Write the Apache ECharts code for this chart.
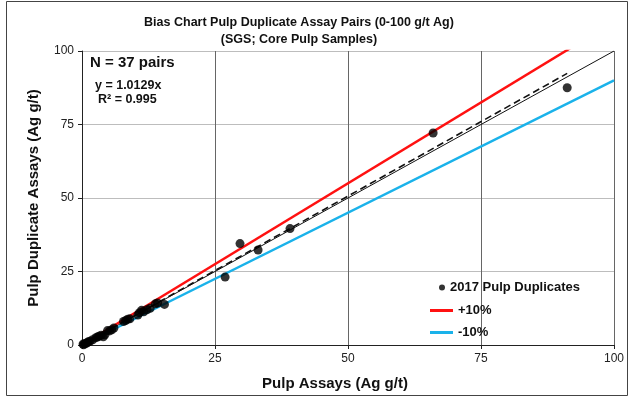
<!DOCTYPE html>
<html>
<head>
<meta charset="utf-8">
<script src="https://cdn.jsdelivr.net/npm/echarts@6/dist/echarts.min.js"></script>
<style>
html,body{margin:0;padding:0;background:#fff;}
#chart{width:629px;height:397px;}
</style>
</head>
<body>
<div id="chart"></div>
<script>
// ---- data ----
const pulpAssays = [0.2,0.3,0.5,0.8,1.0,1.2,1.5,2.0,2.6,2.9,3.2,3.6,4.0,4.3,4.8,5.2,5.6,6.0,7.8,8.2,8.6,9.0,10.5,10.8,11.2,11.6,12.2,12.8,13.8,14.2,15.5,26.9,29.7,33.1,39.1,66.0,91.2];
const pulpDuplicates = [0.3,0.1,0.4,0.6,0.8,1.1,1.3,1.8,2.5,2.7,3.0,3.3,2.8,3.5,4.9,4.8,5.2,5.8,8.0,8.3,8.8,8.9,10.2,11.0,11.8,11.3,12.0,12.5,14.0,14.3,13.8,23.1,34.5,32.3,39.6,72.1,87.5];
const trendSlope = 1.0129;
const plusSlope = 1.10;
const minusSlope = 0.90;
const axisTicks = [0,25,50,75,100];
const title1 = 'Bias Chart Pulp Duplicate Assay Pairs (0-100 g/t Ag)';
const title2 = '(SGS; Core Pulp Samples)';

const points = pulpAssays.map((x,i)=>[x,pulpDuplicates[i]]);
const xMax = Math.max(...pulpAssays);
const FONT = 'Liberation Sans, Arial, sans-serif';

const chart = echarts.init(document.getElementById('chart'));
chart.setOption({
  animation:false,
  backgroundColor:'#fff',
  textStyle:{fontFamily:FONT},
  title:{
    text:title1+'\n'+title2,
    left:294, top:9, textAlign:'center',
    textStyle:{fontFamily:FONT,fontSize:12.5,fontWeight:'bold',color:'#111',lineHeight:17}
  },
  grid:{left:82,right:15,top:51,bottom:52,containLabel:false,outerBoundsMode:'none'},
  xAxis:{
    type:'value',min:axisTicks[0],max:axisTicks[axisTicks.length-1],interval:25,
    name:'Pulp Assays (Ag g/t)',nameLocation:'middle',nameGap:31,
    nameTextStyle:{fontFamily:FONT,fontSize:15,fontWeight:'bold',color:'#111',padding:[0,26,0,0]},
    axisLine:{lineStyle:{color:'#222',width:1}},
    axisTick:{show:true,inside:false,length:4,lineStyle:{color:'#222'}},
    axisLabel:{fontFamily:FONT,fontSize:12,color:'#222',margin:8},
    splitLine:{show:true,lineStyle:{color:'#666',width:1}}
  },
  yAxis:{
    type:'value',min:axisTicks[0],max:axisTicks[axisTicks.length-1],interval:25,
    name:'Pulp Duplicate Assays (Ag g/t)',nameLocation:'middle',nameGap:41,
    nameTextStyle:{fontFamily:FONT,fontSize:15,fontWeight:'bold',color:'#111'},
    axisLine:{show:true,lineStyle:{color:'#222',width:1}},
    axisTick:{show:true,inside:false,length:4,lineStyle:{color:'#222'}},
    axisLabel:{fontFamily:FONT,fontSize:12,color:'#222',margin:8},
    splitLine:{show:true,lineStyle:{color:'#bdbdbd',width:1}}
  },
  legend:[
    {data:['2017 Pulp Duplicates'],left:434,top:276,itemWidth:6,itemHeight:6,icon:'circle',
     textStyle:{fontFamily:FONT,fontSize:13,fontWeight:'bold',color:'#111'}},
    {data:['+10%','-10%'],orient:'vertical',left:425,top:299,itemWidth:23,itemHeight:3,icon:'rect',itemGap:9,
     textStyle:{fontFamily:FONT,fontSize:13,fontWeight:'bold',color:'#111'}}
  ],
  series:[
    {name:'1:1',type:'line',data:[[0,0],[100,100]],showSymbol:false,silent:true,
     lineStyle:{color:'#111',width:1},z:2},
    {name:'+10%',type:'line',data:[[0,0],[100,100*plusSlope]],showSymbol:false,clip:true,
     lineStyle:{color:'#ff1111',width:2.5},itemStyle:{color:'#ff1111'},z:3},
    {name:'-10%',type:'line',data:[[0,0],[100,100*minusSlope]],showSymbol:false,clip:true,
     lineStyle:{color:'#1ab2ea',width:2.5},itemStyle:{color:'#1ab2ea'},z:3},
    {name:'trend',type:'line',data:[[0,0],[xMax,xMax*trendSlope]],showSymbol:false,
     lineStyle:{color:'#111',width:1.6,type:[7,4]},z:4},
    {name:'2017 Pulp Duplicates',type:'scatter',data:points,symbol:'circle',symbolSize:9,
     itemStyle:{color:'#000'},z:5}
  ],
  graphic:[
    {type:'rect',shape:{x:6.5,y:1.5,width:621,height:394},style:{fill:'none',stroke:'#444',lineWidth:1},silent:true},
    {type:'text',left:90,top:55,style:{text:'N = 37 pairs',font:'bold 15px '+FONT,fill:'#111'}},
    {type:'text',left:95,top:79,style:{text:'y = 1.0129x',font:'bold 12.5px '+FONT,fill:'#111'}},
    {type:'text',left:98,top:93,style:{text:'R² = 0.995',font:'bold 12.5px '+FONT,fill:'#111'}}
  ]
});
</script>
</body>
</html>
